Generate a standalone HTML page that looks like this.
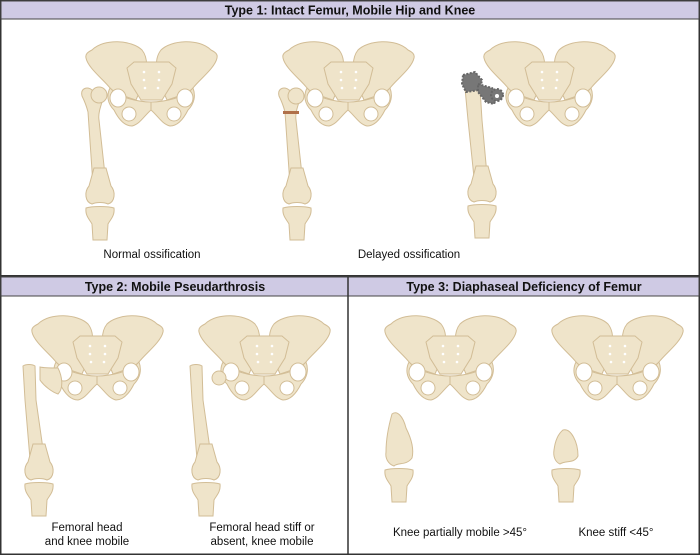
<!DOCTYPE html>
<html><head><meta charset="utf-8"><style>
body{margin:0;background:#fff}
svg{display:block}
text{font-family:"Liberation Sans",Arial,sans-serif;fill:#111}
</style></head><body>
<svg width="700" height="555" viewBox="0 0 700 555" xmlns="http://www.w3.org/2000/svg">
<defs>
<g id="pel" stroke="#d2bd96" stroke-width="1" fill="#efe4ca">
  <path d="M8,12 C20,0 48,2 58,12 C66,22 62,38 58,48 L52,62 C40,58 30,55 26,50 C20,42 4,30 2,20 C1,16 4,14 8,12Z"/>
  <path d="M127,12 C115,0 87,2 77,12 C69,22 73,38 77,48 L83,62 C95,58 105,55 109,50 C115,42 131,30 133,20 C134,16 131,14 127,12Z"/>
  <path d="M26,50 C22,58 24,66 30,72 C34,80 40,88 48,88 C56,86 60,78 67,72 C74,78 78,86 86,88 C94,88 100,80 104,72 C110,66 112,58 109,50 C100,60 80,64 67,64 C55,64 35,60 26,50Z"/>
  <path d="M50,24 L85,24 L92,30 L88,46 L78,62 L57,62 L47,46 L43,30Z"/>
  <ellipse cx="34" cy="60" rx="8" ry="9" fill="#fff"/>
  <ellipse cx="101" cy="60" rx="8" ry="9" fill="#fff"/>
  <ellipse cx="45" cy="76" rx="7" ry="7" fill="#fff"/>
  <ellipse cx="90" cy="76" rx="7" ry="7" fill="#fff"/>
  <line x1="67" y1="64" x2="67" y2="72"/>
  <g fill="#fff" stroke="none"><circle cx="60" cy="34" r="1.3"/><circle cx="75" cy="34" r="1.3"/><circle cx="60" cy="42" r="1.3"/><circle cx="75" cy="42" r="1.3"/><circle cx="61" cy="50" r="1.3"/><circle cx="74" cy="50" r="1.3"/></g>
</g>
<g id="tib" stroke="#d2bd96" stroke-width="1" fill="#efe4ca">
  <path d="M0,18 C6,16 22,16 28,18 C29,26 24,30 22,34 L21,50 L7,50 L6,34 C4,30 -1,26 0,18Z"/>
</g>
<g id="knee" stroke="#d2bd96" stroke-width="1" fill="#efe4ca">
  <path d="M8,-22 L3,-4 C-2,2 -1,12 6,14 C10,12 18,12 22,14 C29,12 30,2 25,-4 L20,-22Z"/>
  <use href="#tib"/>
</g>
</defs>
<rect x="0.5" y="0.5" width="699" height="554" fill="#fff" stroke="#333" stroke-width="2"/>
<rect x="1" y="1" width="698" height="18" fill="#cfcae4" stroke="#444"/>
<text x="350" y="14.5" text-anchor="middle" font-size="12.5" font-weight="bold">Type 1: Intact Femur, Mobile Hip and Knee</text>
<line x1="0" y1="276" x2="700" y2="276" stroke="#333" stroke-width="2"/>
<rect x="1" y="277" width="698" height="19" fill="#cfcae4" stroke="#444"/>
<line x1="348" y1="277" x2="348" y2="555" stroke="#333" stroke-width="1.5"/>
<text x="175" y="291" text-anchor="middle" font-size="12.5" font-weight="bold">Type 2: Mobile Pseudarthrosis</text>
<text x="524" y="291" text-anchor="middle" font-size="12.5" font-weight="bold">Type 3: Diaphaseal Deficiency of Femur</text>

<g stroke="#d2bd96" stroke-width="1" fill="#efe4ca">
<use href="#pel" x="84" y="38"/>
<path d="M82,96 C80,88 88,86 92,90 L104,96 C100,108 98,114 99,120 L106,184 L93,185 L88,112 C86,104 84,100 82,96Z"/>
<circle cx="99" cy="95" r="8"/>
<use href="#knee" x="86" y="190"/>
<use href="#pel" x="281" y="38"/>
<path d="M279,96 C277,88 285,86 289,90 L301,96 C297,108 295,114 296,120 L303,184 L290,185 L285,112 C283,104 281,100 279,96Z"/>
<circle cx="296" cy="96" r="8"/>
<rect x="283" y="111" width="16" height="3" fill="#b0704a" stroke="none"/>
<use href="#knee" x="283" y="190"/>
<use href="#pel" x="482" y="38"/>
<path d="M465,88 L480,88 L482,120 L488,186 L475,187 L468,120Z"/>
<use href="#knee" x="468" y="188"/>
</g>
<g fill="#777" stroke="#666" stroke-width="2" stroke-dasharray="2 1.5">
<path d="M463,75 L475,72 L482,80 L480,90 L466,92 L462,84Z"/>
<path d="M478,84 L492,88 L498,94 L494,104 L486,102 L478,92Z"/>
<circle cx="497" cy="95" r="6"/>
</g>
<circle cx="497" cy="96" r="2" fill="#fff"/>
<text x="152" y="258" text-anchor="middle" font-size="11.5">Normal ossification</text>
<text x="409" y="258" text-anchor="middle" font-size="11.5">Delayed ossification</text>

<g stroke="#d2bd96" stroke-width="1" fill="#efe4ca">
<use href="#pel" x="30" y="312"/>
<path d="M40,367 C44,368 52,368 58,368 C62,376 64,388 58,394 C52,392 44,386 40,380Z"/>
<path d="M23,366 C26,364 32,364 35,366 L36,400 L46,470 L31,471 L25,400Z"/>
<use href="#knee" x="25" y="466"/>
<use href="#pel" x="197" y="312"/>
<circle cx="219" cy="378" r="7"/>
<path d="M190,366 C193,364 199,364 202,366 L203,400 L213,470 L198,471 L192,400Z"/>
<use href="#knee" x="192" y="466"/>
<use href="#pel" x="383" y="312"/>
<path d="M392,414 C397,410 403,416 406,428 C412,440 414,450 412,458 C406,466 398,462 394,466 C388,464 385,458 386,452 C386,440 388,428 392,414Z"/>
<use href="#tib" x="385" y="452"/>
<use href="#pel" x="550" y="312"/>
<path d="M563,430 C571,428 578,442 578,456 C574,464 566,460 560,464 C555,462 553,456 554,450 C555,442 558,434 563,430Z"/>
<use href="#tib" x="552" y="452"/>
</g>
<text x="87" y="531" text-anchor="middle" font-size="11.5">Femoral head</text>
<text x="87" y="545" text-anchor="middle" font-size="11.5">and knee mobile</text>
<text x="262" y="531" text-anchor="middle" font-size="11.5">Femoral head stiff or</text>
<text x="262" y="545" text-anchor="middle" font-size="11.5">absent, knee mobile</text>
<text x="460" y="536" text-anchor="middle" font-size="11.5">Knee partially mobile &gt;45°</text>
<text x="616" y="536" text-anchor="middle" font-size="11.5">Knee stiff &lt;45°</text>
</svg>
</body></html>
